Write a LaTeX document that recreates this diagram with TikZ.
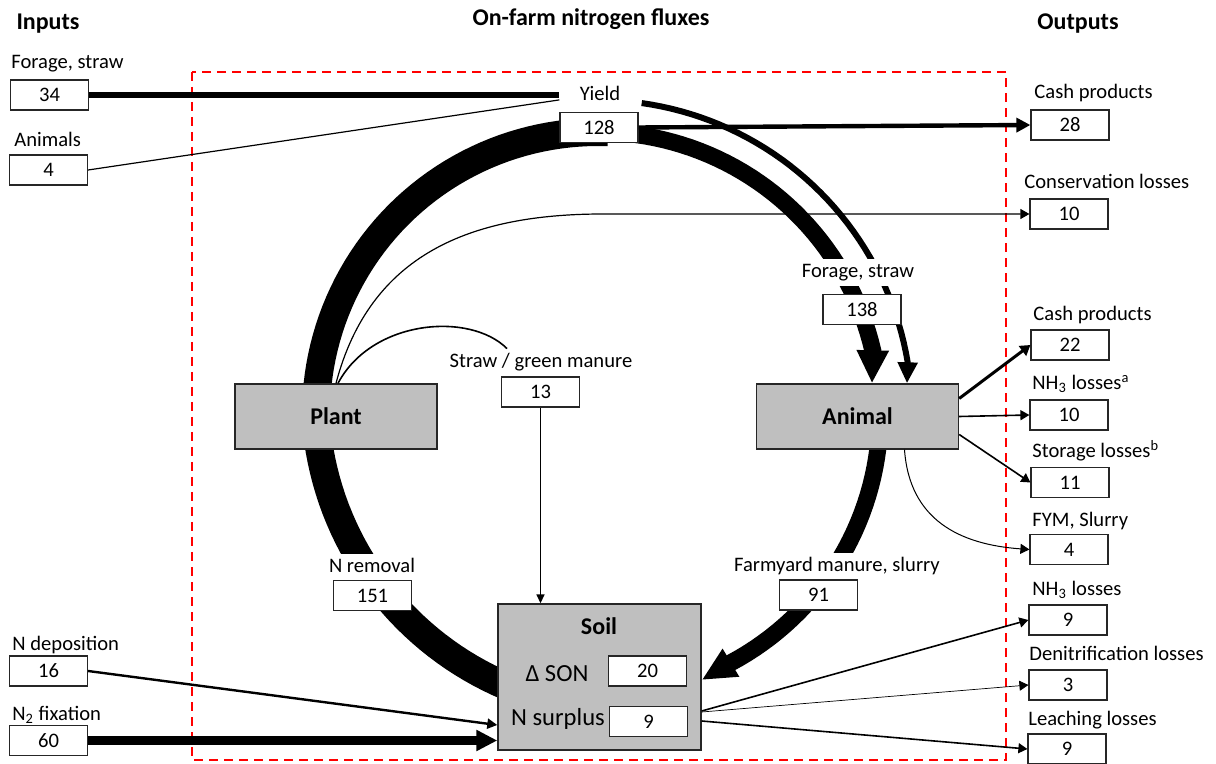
\documentclass[tikz,border=0pt]{standalone}
\usepackage{fontspec}
\setmainfont{Carlito}
\usetikzlibrary{arrows.meta,backgrounds}
\definecolor{poolgray}{RGB}{191,191,191}
\begin{document}
\begin{tikzpicture}[x=0.5pt,y=-0.5pt,>={Triangle[width=5pt,length=4.5pt]},
  txt/.style={font=\fontsize{10.3}{12}\selectfont,inner sep=0pt},
  hdr/.style={font=\fontsize{12}{14}\selectfont\bfseries,inner sep=0pt},
  poolin/.style={font=\fontsize{12.3}{14}\selectfont,inner sep=0pt},
  mid/.style={txt,fill=white,text height=7.5pt,text depth=2pt,inner xsep=1pt,inner ysep=2pt},
  val/.style={draw=black!85,line width=0.6pt,fill=white,minimum width=39pt,minimum height=15pt,inner sep=0pt,font=\fontsize{10.3}{12}\selectfont},
  pool/.style={draw=black!85,line width=0.7pt,fill=poolgray,minimum width=101pt,minimum height=32.5pt,inner sep=0pt,font=\fontsize{12}{14}\selectfont\bfseries}]
\useasboundingbox (0,0) rectangle (1216,764);
\node[hdr,anchor=base] (tin) at (48,30) {Inputs};
\node[hdr,anchor=base] (tfarm) at (591,26) {On-farm nitrogen fluxes};
\node[hdr,anchor=base] (tout) at (1078,30) {Outputs};
\node[pool] (plant) at (336,416.5) {Plant};
\node[pool] (animal) at (857.5,416.5) {Animal};
\node[pool,minimum width=101.5pt,minimum height=73pt] (soil) at (599.5,677) {};
\node[hdr,anchor=base] (soiltxt) at (599,634) {Soil};
\node[poolin,anchor=base] (sontxt) at (557,681) {Δ SON};
\node[poolin,anchor=base] (surtxt) at (558,725) {N surplus};
\node[mid,anchor=base] (lfrg) at (858,278) {Forage, straw};
\node[mid,anchor=base] (lgrn) at (541,368) {Straw / green manure};
\node[mid,anchor=base] (lrem) at (372,573) {N removal};
\node[mid,anchor=base] (lfym) at (837,572) {Farmyard manure, slurry};
\node[val] (in34) at (49.5,95) {34};
\node[val] (in4) at (48.5,170) {4};
\node[val] (in16) at (48.5,671) {16};
\node[val] (in60) at (48.5,740.5) {60};
\node[val] (yld) at (599,127.5) {128};
\node[val] (frg) at (862,309.5) {138};
\node[val] (grn) at (540.5,392) {13};
\node[val] (rem) at (372.5,595.5) {151};
\node[val] (fym) at (818.5,595) {91};
\node[val] (son) at (647.5,671) {20};
\node[val] (sur) at (648.5,721.5) {9};
\node[val] (cash1) at (1070,125) {28};
\node[val] (cons) at (1069,214) {10};
\node[val] (cash2) at (1070,345) {22};
\node[val] (nh3a) at (1069,415) {10};
\node[val] (stor) at (1070,482.5) {11};
\node[val] (slur) at (1069,549.5) {4};
\node[val] (nh3s) at (1068,620) {9};
\node[val] (deni) at (1068,685) {3};
\node[val] (leach) at (1067,749) {9};
\node[txt,anchor=base west] (l34) at (11,69) {Forage, straw};
\node[txt,anchor=base west] (l4) at (14,147) {Animals};
\node[txt,anchor=base west] (l16) at (12,650) {N deposition};
\node[txt,anchor=base west] (l60) at (12,720) {N\textsubscript{2} fixation};
\node[txt,anchor=base] (lyld) at (600,101) {Yield};
\node[txt,anchor=base west] (lcash1) at (1034,99) {Cash products};
\node[txt,anchor=base west] (lcons) at (1024,189) {Conservation losses};
\node[txt,anchor=base west] (lcash2) at (1033,321) {Cash products};
\node[txt,anchor=base west] (lnh3a) at (1032,390) {NH\textsubscript{3} losses\textsuperscript{a}};
\node[txt,anchor=base west] (lstor) at (1032,458) {Storage losses\textsuperscript{b}};
\node[txt,anchor=base west] (lslur) at (1032,527) {FYM, Slurry};
\node[txt,anchor=base west] (lnh3s) at (1032,596) {NH\textsubscript{3} losses};
\node[txt,anchor=base west] (ldeni) at (1029,660) {Denitrification losses};
\node[txt,anchor=base west] (lleach) at (1028,725) {Leaching losses};
\coordinate (yin) at ([yshift=6pt]yld.north west);
\coordinate (consbend) at (603,214);
\begin{scope}[on background layer]
\draw[red,line width=1pt,dash pattern=on 4.5pt off 3pt] (192,72) rectangle (1006,760);
\draw[line width=14pt] plot[domain=100:172,samples=40] ({629+314*cos(\x)},{397+314*sin(\x)});
\draw[line width=14pt] plot[domain=176:272,samples=50] ({598+282*cos(\x)},{414+282*sin(\x)});
\draw[line width=8.5pt,-{Triangle[width=15pt,length=16.5pt]}] plot[domain=272:347,samples=40] ({598+282*cos(\x)},{414+282*sin(\x)}) -- ([xshift=7.25pt]animal.north);
\draw[line width=3pt,-{Triangle[width=9.5pt,length=10.5pt]}] plot[domain=278:350.5,samples=40] ({598+314*cos(\x)},{414+314*sin(\x)}) -- ([xshift=24.75pt]animal.north);
\draw[line width=8.5pt,-{Triangle[width=15pt,length=17pt]}] plot[domain=5:62,samples=30] ({598+282*cos(\x)},{414+282*sin(\x)}) -- ([yshift=-1.5pt]soil.east);
\end{scope}
\draw[line width=3pt] (in34.east) -- (in34.east -| yld.west);
\draw[line width=0.6pt] (in4.east) -- (yin);
\draw[line width=2.2pt,-{Triangle[width=7pt,length=7pt]}] (yld.east) -- (cash1.west);
\draw[line width=0.6pt,->] (plant.north) .. controls +(34,-129) and +(-133,0) .. (consbend) -- (cons.west);
\draw[line width=0.8pt] ([xshift=1pt]plant.north) .. controls +(34,-64) and +(-37,-37) .. ([xshift=-17pt]lgrn.north);
\draw[line width=0.8pt,-{Triangle[width=4pt,length=4.5pt]}] (grn.south) -- (grn.south |- soil.north);
\draw[line width=1.2pt,-{Triangle[width=5pt,length=5pt]}] (in16.east) -- ([yshift=-24pt]soil.west);
\draw[line width=4.5pt,-{Triangle[width=10pt,length=10.5pt]}] (in60.east) -- (in60.east -| soil.west);
\draw[line width=1.5pt,-{Triangle[width=6pt,length=5pt]}] ([yshift=9pt]animal.east) -- (cash2.west);
\draw[line width=0.8pt,->] (animal.east) -- (nh3a.west);
\draw[line width=0.8pt,->] ([yshift=-9pt]animal.east) -- (stor.west);
\draw[line width=0.5pt,->] ([xshift=23.5pt]animal.south) .. controls +(5,70) and +(-70,-5) .. (slur.west);
\draw[line width=0.8pt,->] ([yshift=-17pt]soil.east) -- (nh3s.west);
\draw[line width=0.35pt,->] ([yshift=-17.5pt]soil.east) -- (deni.west);
\draw[line width=0.8pt,->] ([yshift=-22pt]soil.east) -- (leach.west);
\end{tikzpicture}
\end{document}
